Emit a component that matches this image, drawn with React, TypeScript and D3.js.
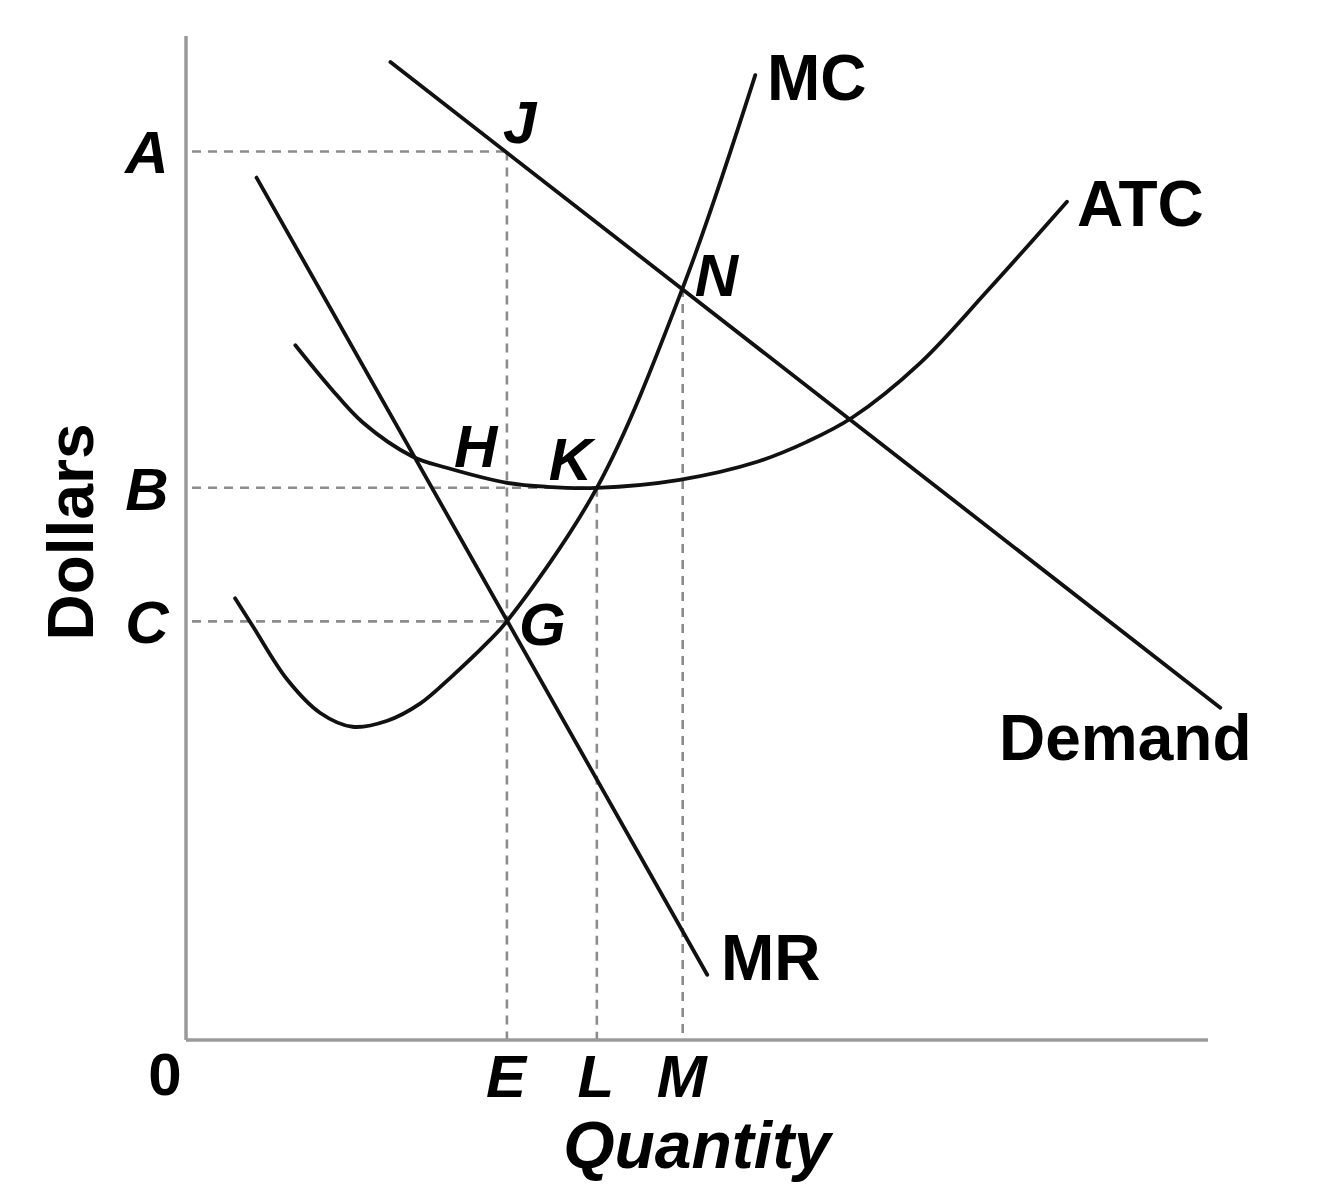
import React from "react";
import * as d3 from "d3";

// ---- data (quantity 0-100, dollars 0-100) ----
const demandQ = [20.0, 101.2];
const demandP = [97.4, 33.1];

const mrQ = [6.9, 51.0];
const mrP = [85.9, 6.5];

const mcQ = [4.8, 6.6, 9.9, 13.1, 16.3, 19.7, 22.9, 26.1, 29.5, 31.4, 40.2, 48.6, 55.7];
const mcP = [44.0, 41.1, 35.9, 32.6, 31.2, 31.8, 33.5, 36.3, 39.6, 41.7, 55.0, 74.9, 96.1];

const atcQ = [10.7, 14.1, 17.3, 22.2, 25.5, 31.4, 35.3, 40.2, 48.3, 55.9, 60.8, 65.2, 71.8, 78.4, 86.2];
const atcP = [69.2, 65.0, 61.5, 58.1, 57.0, 55.5, 55.1, 55.0, 55.8, 57.6, 59.6, 62.0, 67.4, 74.6, 83.5];

const priceNames = ["A", "B", "C"];
const priceValues = [88.5, 55.0, 41.7];
const qtyNames = ["E", "L", "M"];
const qtyValues = [31.4, 40.2, 48.6];

const pointNames = ["J", "N", "H", "K", "G"];
const pointQ = [31.4, 48.6, 31.4, 40.2, 31.4];
const pointP = [88.5, 74.9, 55.5, 55.0, 41.7];

const curveNames = ["MC", "ATC", "Demand", "MR"];

const W = 1324;
const H = 1200;
const x = d3.scaleLinear().domain([0, 100]).range([186, 1208]);
const y = d3.scaleLinear().domain([0, 100]).range([1040, 36]);

const line = d3
  .line<[number, number]>()
  .x((d) => x(d[0]))
  .y((d) => y(d[1]));
const smooth = d3
  .line<[number, number]>()
  .x((d) => x(d[0]))
  .y((d) => y(d[1]))
  .curve(d3.curveCatmullRom.alpha(0.5));

const zip = (a: number[], b: number[]) => a.map((v, i) => [v, b[i]] as [number, number]);

const FONT = "'Liberation Sans', Arial, Helvetica, sans-serif";
const INK = "#111";
const GRAY = "#8c8c8c";

const pointOffsets: Record<string, [number, number]> = {
  J: [-4, -8],
  N: [12, 8],
  H: [-53, -16],
  K: [-48, -8],
  G: [12, 24],
};
const curveLabelPos: Record<string, [number, number]> = {
  MC: [767, 100],
  ATC: [1077, 226],
  Demand: [999, 760],
  MR: [721, 980],
};

export default function App() {
  const dash = "9 7";
  const guides: { x1: number; y1: number; x2: number; y2: number }[] = [];
  guides.push({ x1: x(0) + 6, y1: y(priceValues[0]), x2: x(qtyValues[0]), y2: y(priceValues[0]) });
  guides.push({ x1: x(qtyValues[0]), y1: y(priceValues[0]), x2: x(qtyValues[0]), y2: y(0) });
  guides.push({ x1: x(0) + 6, y1: y(priceValues[1]), x2: x(qtyValues[1]), y2: y(priceValues[1]) });
  guides.push({ x1: x(qtyValues[1]), y1: y(priceValues[1]), x2: x(qtyValues[1]), y2: y(0) });
  guides.push({ x1: x(0) + 6, y1: y(priceValues[2]), x2: x(qtyValues[0]), y2: y(priceValues[2]) });
  guides.push({ x1: x(qtyValues[2]), y1: y(pointP[1]), x2: x(qtyValues[2]), y2: y(0) });

  const sw = 3.8;
  return (
    <svg
      width={W}
      height={H}
      style={{ position: "absolute", left: 0, top: 0, background: "#fff" }}
      fontFamily={FONT}
    >
      <rect width={W} height={H} fill="#fff" />
      {guides.map((g, i) => (
        <line key={i} {...g} stroke={GRAY} strokeWidth={2.6} strokeDasharray={dash} />
      ))}
      <line x1={x(0)} y1={y(100)} x2={x(0)} y2={y(0)} stroke="#9a9a9a" strokeWidth={3.5} />
      <line x1={x(0)} y1={y(0)} x2={x(100)} y2={y(0)} stroke="#9a9a9a" strokeWidth={3.5} />

      <path d={line(zip(demandQ, demandP)) || ""} fill="none" stroke={INK} strokeWidth={sw} strokeLinecap="round" />
      <path d={line(zip(mrQ, mrP)) || ""} fill="none" stroke={INK} strokeWidth={sw} strokeLinecap="round" />
      <path d={smooth(zip(mcQ, mcP)) || ""} fill="none" stroke={INK} strokeWidth={sw} strokeLinecap="round" />
      <path d={smooth(zip(atcQ, atcP)) || ""} fill="none" stroke={INK} strokeWidth={sw} strokeLinecap="round" />

      {curveNames.map((n) => (
        <text key={n} x={curveLabelPos[n][0]} y={curveLabelPos[n][1]} fontSize={64} fontWeight="bold" fill="#000">
          {n}
        </text>
      ))}

      {pointNames.map((n, i) => (
        <text
          key={n}
          x={x(pointQ[i]) + pointOffsets[n][0]}
          y={y(pointP[i]) + pointOffsets[n][1]}
          fontSize={60}
          fontWeight="bold"
          fontStyle="italic"
          fill="#000"
        >
          {n}
        </text>
      ))}

      {priceNames.map((n, i) => (
        <text key={n} x={147} y={y(priceValues[i]) + 22} fontSize={60} fontWeight="bold" fontStyle="italic" textAnchor="middle" fill="#000">
          {n}
        </text>
      ))}
      {qtyNames.map((n, i) => (
        <text key={n} x={x(qtyValues[i]) - 1} y={1097} fontSize={60} fontWeight="bold" fontStyle="italic" textAnchor="middle" fill="#000">
          {n}
        </text>
      ))}
      <text x={165} y={1095} fontSize={60} fontWeight="bold" textAnchor="middle" fill="#000">
        0
      </text>

      <text x={697} y={1168} fontSize={66} fontWeight="bold" fontStyle="italic" textAnchor="middle" fill="#000">
        Quantity
      </text>
      <text transform="translate(93,532) rotate(-90)" fontSize={64} fontWeight="bold" textAnchor="middle" fill="#000">
        Dollars
      </text>
    </svg>
  );
}
